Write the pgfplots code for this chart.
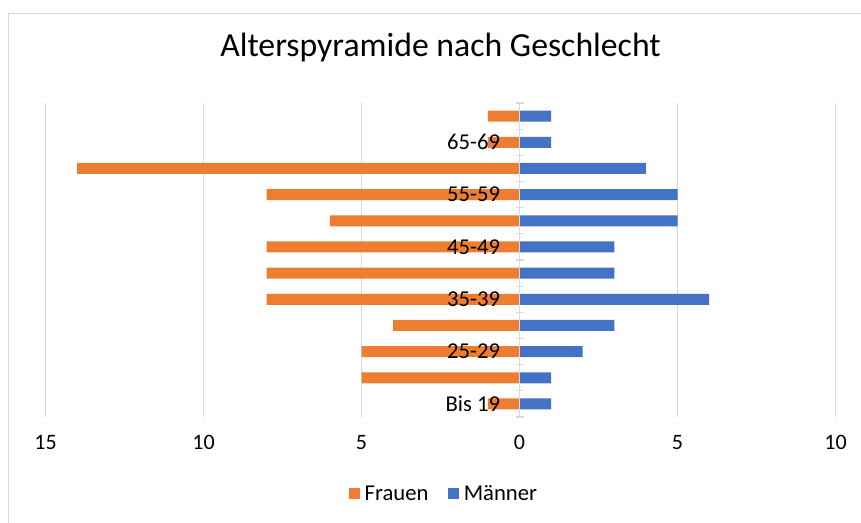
\documentclass[border=0pt]{standalone}
\usepackage{pgfplots}
\pgfplotsset{compat=1.18}
\usepackage{fontspec}
\setmainfont{Carlito}
\definecolor{cFrau}{RGB}{237,125,49}
\definecolor{cMann}{RGB}{68,114,196}
\definecolor{cGrid}{RGB}{217,217,217}

\pgfplotsset{
    pyr/.style={
        at={(34.125pt,78.75pt)}, anchor=south west,
        scale only axis,
        width=592.5pt, height=235.5pt,
        xmin=-15, xmax=10,
        ymin=-0.5, ymax=11.5,
    },
}

\begin{document}
\begin{tikzpicture}[x=1pt,y=1pt]
% page = 861 x 522 px, 1 px = 0.75 pt
\useasboundingbox (0,0) rectangle (645.75,391.5);
\draw[cGrid,line width=0.8pt] (6.375,-5) -- (6.375,381.375) -- (660,381.375);
\begin{axis}[
    pyr,
    xbar, bar width=8.25pt, bar shift=0pt,
    axis y line=center, axis x line=bottom,
    x axis line style={draw=none},
    y axis line style={draw=none},
    xtick={-15,-10,-5,0,5,10},
    xticklabels={15,10,5,0,5,10},
    xtick style={draw=none},
    ytick={0,2,4,6,8,10},
    yticklabels={},
    minor ytick={-0.5,0.5,...,11.5},
    major tick length=0pt,
    minor tick length=6pt,
    minor tick style={cGrid,line width=0.8pt},
    tick align=center,
    xmajorgrids, grid style={cGrid,line width=0.8pt},
    xticklabel style={font=\fontsize{16.5}{18}\selectfont,yshift=-10pt},
    title={Alterspyramide nach Geschlecht},
    title style={at={(0.5,1.124)},anchor=base,font=\fontsize{25.3}{28}\selectfont},
    legend style={at={(0.506,-0.245)},anchor=center,draw=none,
        legend columns=-1,font=\fontsize{17}{19}\selectfont,
        nodes={inner xsep=3.5pt},
        /tikz/every even column/.append style={column sep=11pt}},
    legend image code/.code={\fill[#1] (0pt,-3.8pt) rectangle (8.5pt,4.6pt);},
]
\addplot[fill=cFrau,draw=none] coordinates {
    (-1,0)(-5,1)(-5,2)(-4,3)(-8,4)(-8,5)
    (-8,6)(-6,7)(-8,8)(-14,9)(-1,10)(-1,11)};
\addplot[fill=cMann,draw=none] coordinates {
    (1,0)(1,1)(2,2)(3,3)(6,4)(3,5)
    (3,6)(5,7)(5,8)(4,9)(1,10)(1,11)};
\draw[cGrid,line width=1.1pt] (axis cs:0,-0.5) -- (axis cs:0,11.5);
\legend{Frauen,Männer}
\end{axis}
% category labels drawn over the bars
\begin{axis}[
    pyr,
    axis y line=center, axis x line=none,
    y axis line style={draw=none},
    ytick={0,2,4,6,8,10},
    yticklabels={Bis 19,25-29,35-39,45-49,55-59,65-69},
    major tick length=0pt,
    yticklabel style={font=\fontsize{17}{19}\selectfont,xshift=-11pt},
]
\end{axis}
\end{tikzpicture}
\end{document}
